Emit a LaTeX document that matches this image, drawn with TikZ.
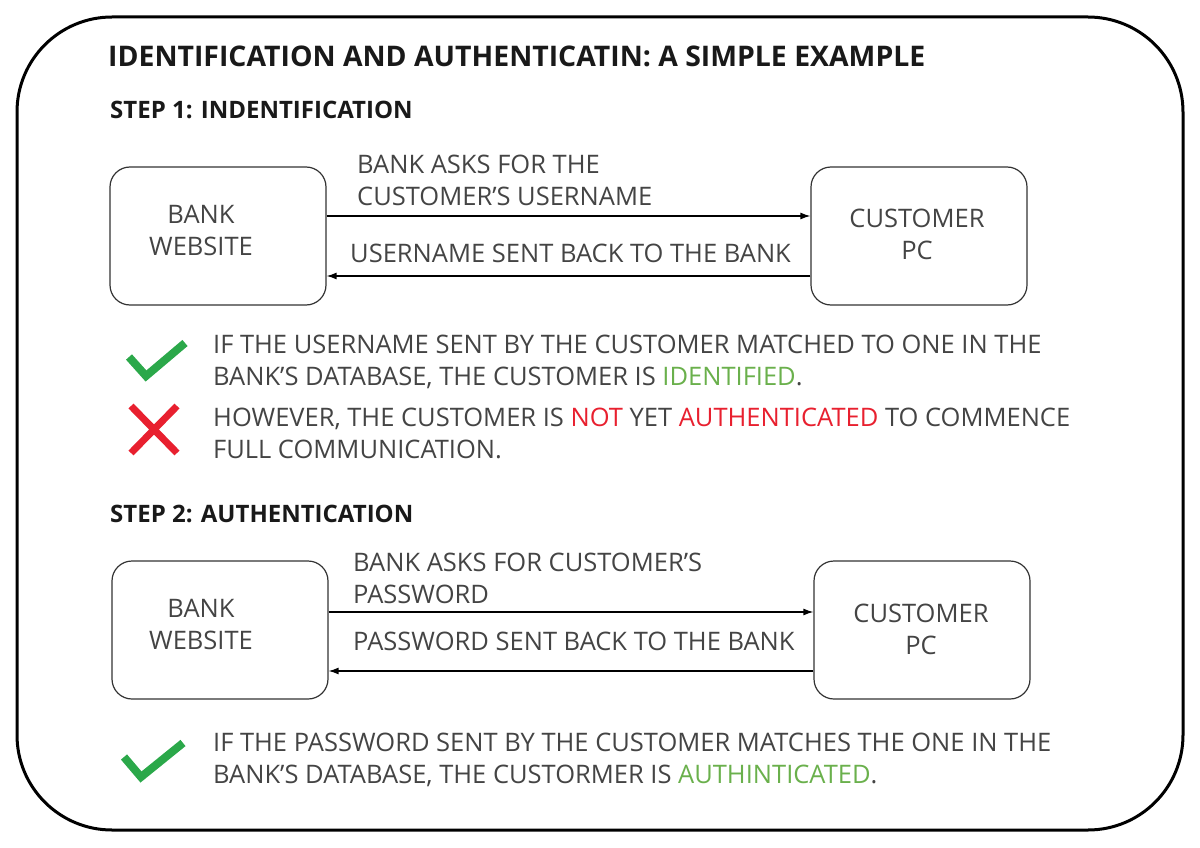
\documentclass[tikz,border=0pt]{standalone}
\usepackage{fontspec}
\setmainfont{Open Sans}
\usetikzlibrary{arrows.meta}
\definecolor{okgreen}{HTML}{2BA84A}
\definecolor{txtgreen}{HTML}{6AB04C}
\definecolor{badred}{HTML}{E8202F}
\definecolor{txtgray}{HTML}{444444}
\begin{document}
\begin{tikzpicture}[x=1pt,y=-1pt,
  every node/.style={inner sep=0pt, text=txtgray},
  party/.style={draw=black!80, line width=1.2pt, rounded corners=20pt, minimum width=216pt, minimum height=138pt},
  boxtext/.style={align=center, font=\fontsize{25.5}{32}\selectfont},
  msg/.style={anchor=base west, align=left, font=\fontsize{25.5}{32}\selectfont},
  note/.style={anchor=base west, align=left, font=\fontsize{25.5}{31.5}\selectfont},
  head/.style={anchor=base west, font=\bfseries, text=black!90},
  link/.style={line width=1.3pt, -{Latex[length=10pt,width=7pt]}}]
\useasboundingbox (0,0) rectangle (1200,848);
\draw[line width=3pt, rounded corners=95pt] (17,17) rectangle (1183,830);

\node[head, font=\bfseries\fontsize{28.4}{30}\selectfont] (title) at (108,67) {IDENTIFICATION AND AUTHENTICATIN: A SIMPLE EXAMPLE};
\node[head, font=\bfseries\fontsize{24}{30}\selectfont] (step1) at (110,119) {STEP 1: INDENTIFICATION};

% step 1
\node[party] (bank1) at (218,236) {};
\node[boxtext] (bank1t) at (201,230) {BANK\\WEBSITE};
\node[party] (cust1) at (919,236) {};
\node[boxtext] (cust1t) at (917,234) {CUSTOMER\\PC};

\draw[link] ([yshift=20pt]bank1.east) -- ([yshift=20pt]cust1.west);
\draw[link] ([yshift=-40pt]cust1.west) -- ([yshift=-40pt]bank1.east);
\node[msg] (ask1) at (357,205) {BANK ASKS FOR THE\\CUSTOMER'S USERNAME};
\node[msg] (back1) at (350,262) {USERNAME SENT BACK TO THE BANK};

\draw[okgreen, line width=8pt] (129,357) -- (146,376) -- (185,343);
\node[note] (ok1) at (213,385) {IF THE USERNAME SENT BY THE CUSTOMER MATCHED TO ONE IN THE\\BANK'S DATABASE, THE CUSTOMER IS \textcolor{txtgreen}{IDENTIFIED}.};
\draw[badred, line width=7pt] (131,406) -- (177,453) (177,406) -- (131,453);
\node[note] (no1) at (213,458) {HOWEVER, THE CUSTOMER IS \textcolor{badred}{NOT} YET \textcolor{badred}{AUTHENTICATED} TO COMMENCE\\FULL COMMUNICATION.};

% step 2
\node[head, font=\bfseries\fontsize{24}{30}\selectfont] (step2) at (110,522) {STEP 2: AUTHENTICATION};
\node[party] (bank2) at (220,630) {};
\node[boxtext] (bank2t) at (201,624) {BANK\\WEBSITE};
\node[party] (cust2) at (922,630) {};
\node[boxtext] (cust2t) at (921,629) {CUSTOMER\\PC};

\draw[link] ([yshift=18pt]bank2.east) -- ([yshift=18pt]cust2.west);
\draw[link] ([yshift=-41pt]cust2.west) -- ([yshift=-41pt]bank2.east);
\node[msg] (ask2) at (353,603) {BANK ASKS FOR CUSTOMER'S\\PASSWORD};
\node[msg] (back2) at (353,650) {PASSWORD SENT BACK TO THE BANK};

\draw[okgreen, line width=8pt] (124,757) -- (141,777) -- (183,743);
\node[note] (ok2) at (213,783) {IF THE PASSWORD SENT BY THE CUSTOMER MATCHES THE ONE IN THE\\BANK'S DATABASE, THE CUSTORMER IS \textcolor{txtgreen}{AUTHINTICATED}.};
\end{tikzpicture}
\end{document}
